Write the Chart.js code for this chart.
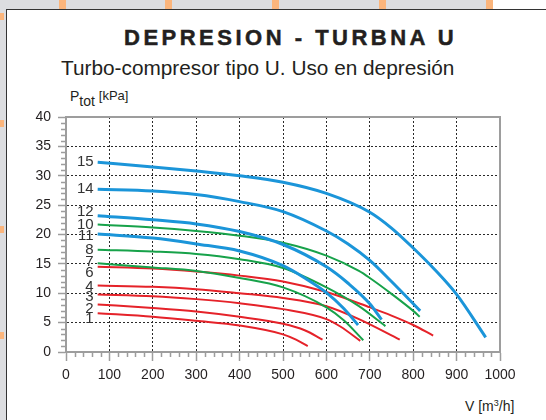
<!DOCTYPE html>
<html>
<head>
<meta charset="utf-8">
<script src="https://cdn.jsdelivr.net/npm/chart.js@4.4.1/dist/chart.umd.min.js"></script>
<style>
  html, body { margin: 0; padding: 0; }
  body {
    width: 546px; height: 420px; position: relative; overflow: hidden;
    background: #fff; font-family: "Liberation Sans", Arial, sans-serif; color: #231f20;
  }
  .strip-top { position: absolute; left: 0; top: 0; width: 493px; height: 10px; background: #dcdde0; }
  .strip-left { position: absolute; left: 0; top: 0; width: 6px; height: 420px; background: #dcdde0; }
  .panel { position: absolute; left: 6px; top: 9px; width: 560px; height: 430px; border: 1.5px solid #333; background: #fff; }
  .dot { position: absolute; background: #fbb57c; }
  .title {
    position: absolute; left: 124px; top: 25px; font-size: 22px; font-weight: bold;
    letter-spacing: 3.5px; white-space: nowrap; -webkit-text-stroke: 0.5px #231f20;
  }
  .subtitle { position: absolute; left: 61px; top: 56px; font-size: 20.8px; white-space: nowrap; }
  .ytitle { position: absolute; left: 70px; top: 88px; font-size: 14px; white-space: nowrap; }
  .ytitle sub { font-size: 14px; vertical-align: -5px; }
  .ytitle span { font-size: 13px; vertical-align: 1px; }
  .xtitle { position: absolute; left: 465px; top: 398px; font-size: 14px; white-space: nowrap; }
  .xtitle sup { font-size: 9px; vertical-align: 5px; }
  canvas { position: absolute; left: 0; top: 0; }
</style>
</head>
<body>
<div class="strip-top"></div>
<div class="strip-left"></div>
<div class="panel"></div>
<div class="dot" style="left:59px;top:0;width:7px;height:9px"></div>
<div class="dot" style="left:165px;top:0;width:7px;height:9px"></div>
<div class="dot" style="left:272px;top:0;width:7px;height:9px"></div>
<div class="dot" style="left:379px;top:0;width:7px;height:9px"></div>
<div class="dot" style="left:486px;top:0;width:7px;height:9px"></div>
<div class="dot" style="left:0;top:13px;width:4px;height:7px"></div>
<div class="dot" style="left:0;top:120px;width:4px;height:7px"></div>
<div class="dot" style="left:0;top:226px;width:4px;height:7px"></div>
<div class="dot" style="left:0;top:332px;width:4px;height:7px"></div>

<div class="title">DEPRESION - TURBNA U</div>
<div class="subtitle">Turbo-compresor tipo U. Uso en depresión</div>
<div class="ytitle">P<sub>tot</sub> <span>[kPa]</span></div>
<div class="xtitle">V [m<sup>3</sup>/h]</div>

<canvas id="chart" width="546" height="420"></canvas>

<script>
// Curve data: flow V [m3/h] and total pressure P [kPa]
const flow15 = [73, 200, 300, 400, 500, 600, 700, 750, 800, 850, 900, 967];
const press15 = [32.3, 31.5, 30.8, 30.0, 28.9, 27.0, 23.8, 21.1, 17.7, 14.0, 9.8, 2.5];

const flow14 = [73, 200, 300, 400, 500, 600, 650, 700, 750, 816];
const press14 = [27.7, 27.4, 26.8, 25.6, 23.9, 20.6, 18.4, 15.6, 12.0, 7.0];

const flow12 = [73, 200, 300, 400, 500, 600, 650, 700, 727];
const press12 = [23.2, 22.5, 21.8, 20.5, 18.3, 14.5, 11.7, 8.2, 5.5];

const flow11 = [73, 200, 300, 400, 500, 550, 600, 640, 673];
const press11 = [20.1, 19.4, 18.4, 17.2, 14.7, 12.6, 10.1, 7.4, 4.6];

const flow10 = [73, 200, 300, 400, 500, 600, 675, 700, 750, 800, 815];
const press10 = [21.7, 21.2, 20.6, 19.8, 18.6, 16.4, 13.8, 12.6, 9.9, 7.0, 6.0];

const flow8 = [73, 200, 300, 400, 500, 600, 675, 736];
const press8 = [17.4, 17.1, 16.7, 15.8, 14.3, 11.0, 7.8, 4.4];

const flow7 = [73, 200, 300, 400, 500, 600, 640, 685];
const press7 = [15.1, 14.4, 13.8, 12.6, 11.0, 7.6, 5.4, 2.0];

const flow6 = [73, 200, 300, 400, 500, 600, 700, 750, 800, 846];
const press6 = [14.5, 14.2, 13.7, 13.0, 12.0, 10.2, 7.6, 6.2, 4.6, 2.8];

const flow4 = [73, 200, 300, 400, 500, 600, 675, 769];
const press4 = [11.3, 11.1, 10.7, 10.0, 9.2, 7.8, 5.6, 2.1];

const flow3 = [73, 200, 300, 400, 500, 600, 633, 678];
const press3 = [9.8, 9.5, 9.0, 8.3, 7.3, 5.6, 4.3, 1.9];

const flow2 = [73, 200, 300, 400, 500, 550, 591];
const press2 = [8.1, 7.5, 6.9, 6.0, 4.8, 3.7, 2.1];

const flow1 = [73, 200, 300, 400, 500, 530, 557];
const press1 = [6.6, 6.0, 5.3, 4.5, 3.0, 2.1, 1.0];

const curveNames = ['15', '14', '12', '10', '11', '8', '7', '6', '4', '3', '2', '1'];
const curveFlows = [flow15, flow14, flow12, flow10, flow11, flow8, flow7, flow6, flow4, flow3, flow2, flow1];
const curvePress = [press15, press14, press12, press10, press11, press8, press7, press6, press4, press3, press2, press1];

// Axis ticks
const flowMin = 0, flowMax = 1000, flowStep = 100, flowMinor = 20;
const pressMin = 0, pressMax = 40, pressStep = 5, pressMinor = 1;

// Styles
const BLUE = '#1b95d9';
const GREEN = '#17a24a';
const RED = '#e52229';
const curveColors = [BLUE, BLUE, BLUE, GREEN, BLUE, GREEN, GREEN, RED, RED, RED, RED, RED];
const curveWidths = [3, 3, 3, 2, 3, 2, 2, 2, 2, 2, 2, 2];
// vertical nudge (px) of each number label relative to the curve start
const labelShift = [0, 0, -4, 0, 2, 0, -1, 6, 1, 2, 4, 6];

const AXIS_GRAY = '#9d9d9d';
const GRID_DARK = '#2a2a2a';

const datasets = curveNames.map((name, i) => ({
    label: name,
    data: curveFlows[i].map((v, j) => ({ x: v, y: curvePress[i][j] })),
    borderColor: curveColors[i],
    borderWidth: curveWidths[i],
    pointRadius: 0,
    fill: false,
    cubicInterpolationMode: 'monotone',
    borderCapStyle: 'butt'
}));

// Minor tick marks, outside the axes
const minorTicks = {
    id: 'minorTicks',
    afterDraw(chart) {
        const { ctx, scales: { x, y } } = chart;
        ctx.save();
        ctx.strokeStyle = AXIS_GRAY;
        ctx.lineWidth = 1.5;
        ctx.beginPath();
        for (let v = pressMin; v <= pressMax; v += pressMinor) {
            if (v % pressStep === 0) continue;
            const py = Math.round(y.getPixelForValue(v)) + 0.5;
            ctx.moveTo(x.left, py);
            ctx.lineTo(x.left - 5, py);
        }
        for (let v = flowMin; v <= flowMax; v += flowMinor) {
            if (v % flowStep === 0) continue;
            const px = Math.round(x.getPixelForValue(v)) + 0.5;
            ctx.moveTo(px, y.bottom);
            ctx.lineTo(px, y.bottom + 5);
        }
        ctx.stroke();
        ctx.restore();
    }
};

// Solid top and right frame of the plot
const plotFrame = {
    id: 'plotFrame',
    afterDatasetsDraw(chart) {
        const { ctx, chartArea: a } = chart;
        ctx.save();
        ctx.strokeStyle = AXIS_GRAY;
        ctx.lineWidth = 2;
        ctx.beginPath();
        ctx.moveTo(a.left, a.top);
        ctx.lineTo(a.right, a.top);
        ctx.lineTo(a.right, a.bottom);
        ctx.stroke();
        ctx.restore();
    }
};

// Number labels at the start of every curve
const curveLabels = {
    id: 'curveLabels',
    afterDatasetsDraw(chart) {
        const { ctx } = chart;
        ctx.save();
        ctx.font = '15px "Liberation Sans", Arial, sans-serif';
        ctx.fillStyle = '#333';
        ctx.textAlign = 'right';
        ctx.textBaseline = 'middle';
        chart.data.datasets.forEach((ds, i) => {
            const first = chart.getDatasetMeta(i).data[0];
            ctx.fillText(ds.label, first.x - 4, first.y + labelShift[i]);
        });
        ctx.restore();
    }
};

const tickFont = { family: '"Liberation Sans", Arial, sans-serif', size: 14 };

new Chart(document.getElementById('chart'), {
    type: 'line',
    data: { datasets: datasets },
    options: {
        responsive: false,
        animation: false,
        layout: { padding: { left: 0, top: 117, right: 46, bottom: 28 } },
        plugins: {
            legend: { display: false },
            tooltip: { enabled: false }
        },
        scales: {
            x: {
                type: 'linear',
                min: flowMin,
                max: flowMax,
                ticks: {
                    stepSize: flowStep, color: '#231f20', font: tickFont, padding: 6, maxRotation: 0,
                    callback: (value) => String(value)
                },
                grid: { color: GRID_DARK, lineWidth: 1, tickColor: AXIS_GRAY, tickLength: 9, tickWidth: 1.5 },
                border: { color: AXIS_GRAY, width: 2, dash: [2, 2] },
                afterFit(scale) {
                    scale.height = 40;
                    scale.paddingLeft = 0;
                    scale.paddingRight = 0;
                }
            },
            y: {
                min: pressMin,
                max: pressMax,
                ticks: { stepSize: pressStep, color: '#231f20', font: tickFont, padding: 7 },
                grid: { color: GRID_DARK, lineWidth: 1, tickColor: AXIS_GRAY, tickLength: 8, tickWidth: 1.5 },
                border: { color: AXIS_GRAY, width: 2, dash: [2, 2] },
                afterFit(scale) {
                    scale.width = 66;
                    scale.paddingTop = 0;
                    scale.paddingBottom = 0;
                }
            }
        }
    },
    plugins: [minorTicks, plotFrame, curveLabels]
});
</script>
</body>
</html>
